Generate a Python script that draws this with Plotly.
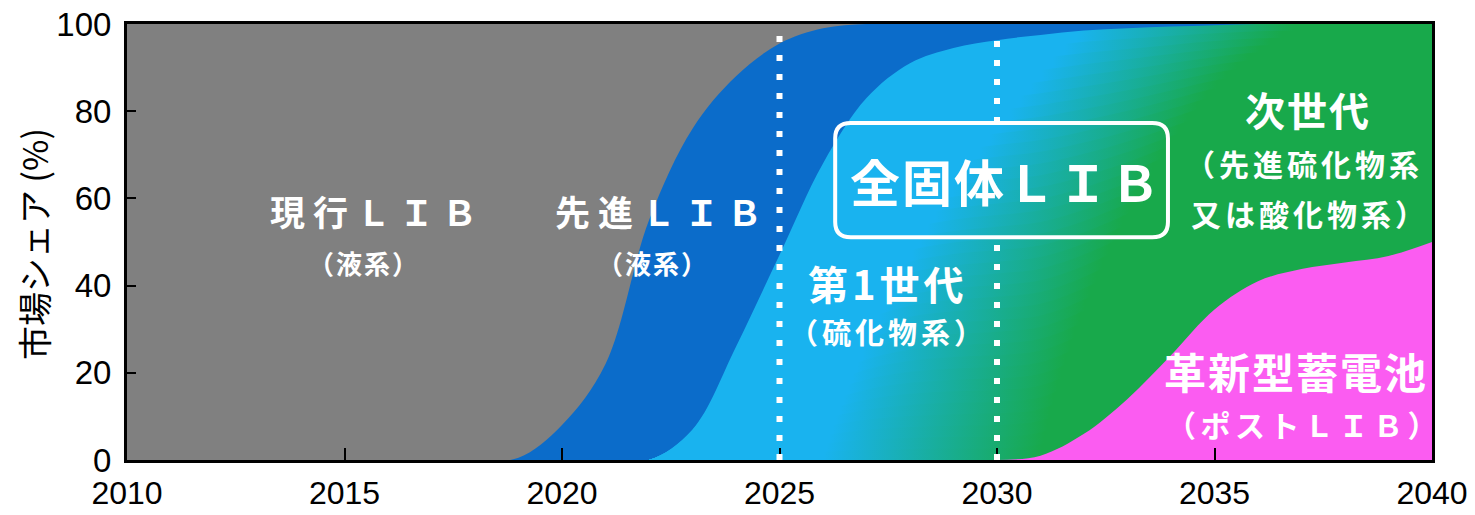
import numpy as np
import plotly.graph_objects as go

# Market share (%) by battery technology
years = [2010, 2018, 2019, 2020, 2021, 2022, 2023, 2024, 2025, 2026, 2027, 2028,
         2029, 2030, 2031, 2032, 2033, 2034, 2035, 2036, 2037, 2038, 2039, 2040]
share_current_lib = [100, 100, 99.5, 92, 78, 45, 24, 12, 4.5, 1, 0, 0,
                     0, 0, 0, 0, 0, 0, 0, 0, 0, 0, 0, 0]
share_advanced_lib = [0, 0, 0.5, 8, 22, 55, 69, 62, 48.5, 31, 17, 9,
                      5.5, 3.7, 2.5, 1.5, 1, 0.6, 0.3, 0, 0, 0, 0, 0]
share_solid_state = [0, 0, 0, 0, 0, 0, 7, 26, 47, 68, 83, 91,
                     94.5, 96.3, 96.5, 92.5, 85, 75.4, 65.2, 59, 56.2, 54.7, 53.2, 50]
share_post_lib = [0, 0, 0, 0, 0, 0, 0, 0, 0, 0, 0, 0,
                  0, 0, 1, 6, 14, 24, 34.5, 41, 43.8, 45.3, 46.8, 50]

milestones = [2025, 2030]
x_ticks = [2010, 2015, 2020, 2025, 2030, 2035, 2040]
y_ticks = [0, 20, 40, 60, 80, 100]

GRAY = "#808080"
DARK_BLUE = "#0b6cca"
LIGHT_BLUE = "#19b3ef"
GREEN = "#18a94b"
PINK = "#fb5cf1"

post_top = np.array(share_post_lib, dtype=float)
solid = np.array(share_solid_state, dtype=float)
solid_top = post_top + solid
advanced_top = solid_top + np.array(share_advanced_lib)
current_top = advanced_top + np.array(share_current_lib)

fig = go.Figure()

def area(y, **kw):
    fig.add_trace(go.Scatter(
        x=years, y=y, mode="lines", fill="tozeroy",
        line=dict(width=0, shape="spline"), hoverinfo="skip",
        showlegend=False, **kw))

def blue_to_green(y_level):
    # the light-blue -> green transition drifts to the right higher up
    mid = 2028.5 + 0.02 * y_level + 0.00045 * y_level ** 2
    return dict(type="horizontal", start=mid - 2.5, stop=mid + 2.5,
                colorscale=[[0, LIGHT_BLUE], [1, GREEN]])

area(current_top, fillcolor=GRAY, name="現行LIB")
area(advanced_top, fillcolor=DARK_BLUE, name="先進LIB")

# all-solid-state band: nested layers, each one a little lower than the last,
# so the colour transition runs diagonally without seams
n_layers = 36
for k in range(n_layers, 0, -1):
    y_level = (k - 0.5) / n_layers * 95
    area(post_top + solid * k / n_layers, name="全固体LIB",
         fillgradient=blue_to_green(y_level))

area(post_top, fillcolor=PINK, name="革新型蓄電池")

# Rounded label box for the all-solid-state LIB
bx0, bx1, by0, by1 = 2026.28, 2033.93, 51.1, 77.3
rx, ry = 0.36, 3.5
box_path = (f"M {bx0+rx},{by0} L {bx1-rx},{by0} Q {bx1},{by0} {bx1},{by0+ry} "
            f"L {bx1},{by1-ry} Q {bx1},{by1} {bx1-rx},{by1} L {bx0+rx},{by1} "
            f"Q {bx0},{by1} {bx0},{by1-ry} L {bx0},{by0+ry} Q {bx0},{by0} {bx0+rx},{by0} Z")

dot = dict(color="white", width=6, dash="6px,13px")
shapes = [
    dict(type="line", xref="x", yref="y", x0=milestones[0], x1=milestones[0],
         y0=0, y1=99.5, line=dot),
    dict(type="line", xref="x", yref="y", x0=milestones[1], x1=milestones[1],
         y0=0, y1=by0, line=dot),
    dict(type="line", xref="x", yref="y", x0=milestones[1], x1=milestones[1],
         y0=by1, y1=98.5, line=dot),
    dict(type="path", xref="x", yref="y", path=box_path,
         line=dict(color="white", width=4), fillcolor="rgba(0,0,0,0)"),
]

JP = "Noto Sans CJK JP"
# text, x, y, font size, letter spacing
labels = [
    ("現行ＬＩＢ", 2015.75, 57.3, 35, 8),
    ("（液系）", 2015.45, 45.4, 26, 2),
    ("先進ＬＩＢ", 2022.3, 57.3, 35, 8),
    ("（液系）", 2022.1, 45.4, 26, 2),
    ("全固体ＬＩＢ", 2030.2, 64.2, 50, 2),
    ("第1世代", 2027.5, 40.6, 40, 4),
    ("（硫化物系）", 2027.5, 29.6, 29, 4),
    ("次世代", 2037.15, 80.5, 40, 2),
    ("（先進硫化物系", 2037.05, 68.1, 30, 4),
    ("又は酸化物系）", 2037.2, 56.7, 30, 4),
    ("革新型蓄電池", 2036.87, 20.6, 42, 2),
    ("（ポストＬＩＢ）", 2037.05, 8.3, 30, 4.5),
]
annotations = [
    dict(text=f'<span style="letter-spacing:{ls}px">{t}</span>',
         x=x, y=y, xref="x", yref="y", showarrow=False,
         xanchor="center", yanchor="middle",
         font=dict(family=JP, size=s, color="white", weight="bold"))
    for t, x, y, s, ls in labels
]
annotations.append(dict(
    text="市場シェア (%)", x=0, y=0.5, xref="paper", yref="paper",
    xshift=-94, yshift=-2, textangle=-90, showarrow=False,
    xanchor="center", yanchor="middle",
    font=dict(family=JP, size=34, color="black")))

axis_common = dict(showline=True, linecolor="black", linewidth=3, mirror=True,
                   ticks="inside", tickcolor="black", tickwidth=2,
                   showgrid=False, zeroline=False, automargin=False)

fig.update_layout(
    width=1475, height=515, autosize=False,
    margin=dict(l=127, r=43, t=24, b=55),
    paper_bgcolor="white", plot_bgcolor=GRAY,
    xaxis=dict(range=[2010, 2040], tickvals=x_ticks, ticklen=12,
               ticklabelstandoff=3,
               tickfont=dict(family="Liberation Sans", size=32, color="black"),
               **axis_common),
    yaxis=dict(range=[0, 100], tickvals=y_ticks, ticklen=9,
               ticklabelstandoff=6,
               tickfont=dict(family="Liberation Sans", size=33, color="black"),
               **axis_common),
    shapes=shapes, annotations=annotations,
)

fig.write_html("out.html")
